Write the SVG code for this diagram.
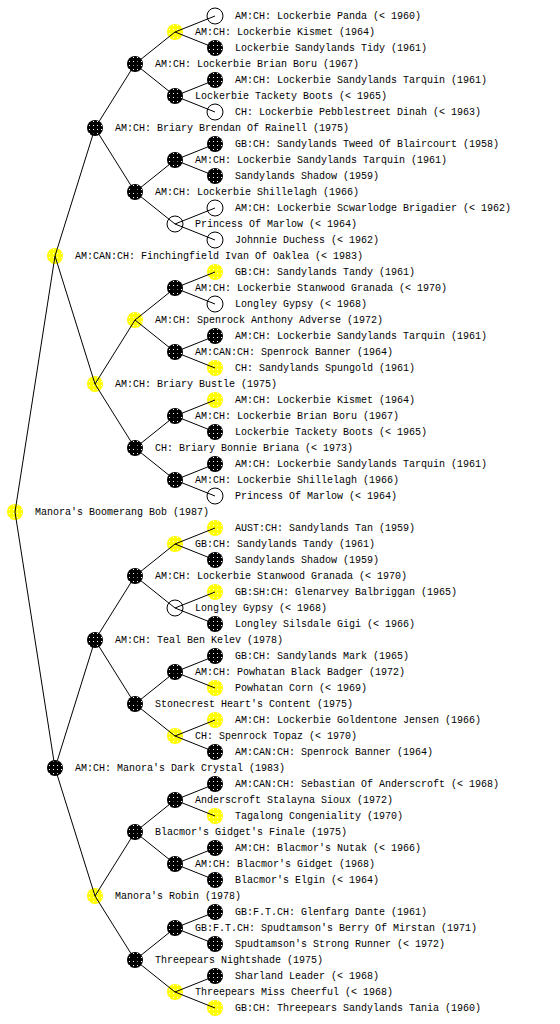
<svg xmlns="http://www.w3.org/2000/svg" width="560" height="1024" viewBox="0 0 560 1024">
<style>
text{font-family:"Liberation Mono","DejaVu Sans Mono",monospace;font-size:10px;fill:#000}
.b{fill:url(#pb)}
.y{fill:url(#py)}
.e{fill:#fff;stroke:#000;stroke-width:1}
.c{fill:none;stroke:#000;stroke-width:1}
</style>
<defs>
<pattern id="pb" width="4" height="4" patternUnits="userSpaceOnUse"><rect width="4" height="4" fill="#000"/><rect x="1" y="1" width="1" height="1" fill="#fff"/></pattern>
<pattern id="py" width="4" height="4" patternUnits="userSpaceOnUse"><rect width="4" height="4" fill="#ffff00"/><rect x="1" y="1" width="1" height="1" fill="#fff"/></pattern>
</defs>
<rect width="560" height="1024" fill="#fff"/>
<g id="nodes">
<g id="n0"><circle class="y" cx="15" cy="512" r="8"/><text x="35" y="515">Manora's Boomerang Bob (1987)</text></g>
<g id="n1"><circle class="y" cx="55" cy="256" r="8"/><text x="75" y="259">AM:CAN:CH: Finchingfield Ivan Of Oaklea (&lt; 1983)</text></g>
<g id="n2"><circle class="b" cx="55" cy="768" r="8"/><text x="75" y="771">AM:CH: Manora's Dark Crystal (1983)</text></g>
<g id="n3"><circle class="b" cx="95" cy="128" r="8"/><text x="115" y="131">AM:CH: Briary Brendan Of Rainell (1975)</text></g>
<g id="n4"><circle class="y" cx="95" cy="384" r="8"/><text x="115" y="387">AM:CH: Briary Bustle (1975)</text></g>
<g id="n5"><circle class="b" cx="95" cy="640" r="8"/><text x="115" y="643">AM:CH: Teal Ben Kelev (1978)</text></g>
<g id="n6"><circle class="y" cx="95" cy="896" r="8"/><text x="115" y="899">Manora's Robin (1978)</text></g>
<g id="n7"><circle class="b" cx="135" cy="64" r="8"/><text x="155" y="67">AM:CH: Lockerbie Brian Boru (1967)</text></g>
<g id="n8"><circle class="b" cx="135" cy="192" r="8"/><text x="155" y="195">AM:CH: Lockerbie Shillelagh (1966)</text></g>
<g id="n9"><circle class="y" cx="135" cy="320" r="8"/><text x="155" y="323">AM:CH: Spenrock Anthony Adverse (1972)</text></g>
<g id="n10"><circle class="b" cx="135" cy="448" r="8"/><text x="155" y="451">CH: Briary Bonnie Briana (&lt; 1973)</text></g>
<g id="n11"><circle class="b" cx="135" cy="576" r="8"/><text x="155" y="579">AM:CH: Lockerbie Stanwood Granada (&lt; 1970)</text></g>
<g id="n12"><circle class="b" cx="135" cy="704" r="8"/><text x="155" y="707">Stonecrest Heart's Content (1975)</text></g>
<g id="n13"><circle class="b" cx="135" cy="832" r="8"/><text x="155" y="835">Blacmor's Gidget's Finale (1975)</text></g>
<g id="n14"><circle class="b" cx="135" cy="960" r="8"/><text x="155" y="963">Threepears Nightshade (1975)</text></g>
<g id="n15"><circle class="y" cx="175" cy="32" r="8"/><text x="195" y="35">AM:CH: Lockerbie Kismet (1964)</text></g>
<g id="n16"><circle class="b" cx="175" cy="96" r="8"/><text x="195" y="99">Lockerbie Tackety Boots (&lt; 1965)</text></g>
<g id="n17"><circle class="b" cx="175" cy="160" r="8"/><text x="195" y="163">AM:CH: Lockerbie Sandylands Tarquin (1961)</text></g>
<g id="n18"><circle class="e" cx="175" cy="224" r="8"/><text x="195" y="227">Princess Of Marlow (&lt; 1964)</text></g>
<g id="n19"><circle class="b" cx="175" cy="288" r="8"/><text x="195" y="291">AM:CH: Lockerbie Stanwood Granada (&lt; 1970)</text></g>
<g id="n20"><circle class="b" cx="175" cy="352" r="8"/><text x="195" y="355">AM:CAN:CH: Spenrock Banner (1964)</text></g>
<g id="n21"><circle class="b" cx="175" cy="416" r="8"/><text x="195" y="419">AM:CH: Lockerbie Brian Boru (1967)</text></g>
<g id="n22"><circle class="b" cx="175" cy="480" r="8"/><text x="195" y="483">AM:CH: Lockerbie Shillelagh (1966)</text></g>
<g id="n23"><circle class="y" cx="175" cy="544" r="8"/><text x="195" y="547">GB:CH: Sandylands Tandy (1961)</text></g>
<g id="n24"><circle class="e" cx="175" cy="608" r="8"/><text x="195" y="611">Longley Gypsy (&lt; 1968)</text></g>
<g id="n25"><circle class="b" cx="175" cy="672" r="8"/><text x="195" y="675">AM:CH: Powhatan Black Badger (1972)</text></g>
<g id="n26"><circle class="y" cx="175" cy="736" r="8"/><text x="195" y="739">CH: Spenrock Topaz (&lt; 1970)</text></g>
<g id="n27"><circle class="b" cx="175" cy="800" r="8"/><text x="195" y="803">Anderscroft Stalayna Sioux (1972)</text></g>
<g id="n28"><circle class="b" cx="175" cy="864" r="8"/><text x="195" y="867">AM:CH: Blacmor's Gidget (1968)</text></g>
<g id="n29"><circle class="b" cx="175" cy="928" r="8"/><text x="195" y="931">GB:F.T.CH: Spudtamson's Berry Of Mirstan (1971)</text></g>
<g id="n30"><circle class="y" cx="175" cy="992" r="8"/><text x="195" y="995">Threepears Miss Cheerful (&lt; 1968)</text></g>
<g id="n31"><circle class="e" cx="215" cy="16" r="8"/><text x="235" y="19">AM:CH: Lockerbie Panda (&lt; 1960)</text></g>
<g id="n32"><circle class="b" cx="215" cy="48" r="8"/><text x="235" y="51">Lockerbie Sandylands Tidy (1961)</text></g>
<g id="n33"><circle class="b" cx="215" cy="80" r="8"/><text x="235" y="83">AM:CH: Lockerbie Sandylands Tarquin (1961)</text></g>
<g id="n34"><circle class="e" cx="215" cy="112" r="8"/><text x="235" y="115">CH: Lockerbie Pebblestreet Dinah (&lt; 1963)</text></g>
<g id="n35"><circle class="b" cx="215" cy="144" r="8"/><text x="235" y="147">GB:CH: Sandylands Tweed Of Blaircourt (1958)</text></g>
<g id="n36"><circle class="b" cx="215" cy="176" r="8"/><text x="235" y="179">Sandylands Shadow (1959)</text></g>
<g id="n37"><circle class="e" cx="215" cy="208" r="8"/><text x="235" y="211">AM:CH: Lockerbie Scwarlodge Brigadier (&lt; 1962)</text></g>
<g id="n38"><circle class="e" cx="215" cy="240" r="8"/><text x="235" y="243">Johnnie Duchess (&lt; 1962)</text></g>
<g id="n39"><circle class="y" cx="215" cy="272" r="8"/><text x="235" y="275">GB:CH: Sandylands Tandy (1961)</text></g>
<g id="n40"><circle class="e" cx="215" cy="304" r="8"/><text x="235" y="307">Longley Gypsy (&lt; 1968)</text></g>
<g id="n41"><circle class="b" cx="215" cy="336" r="8"/><text x="235" y="339">AM:CH: Lockerbie Sandylands Tarquin (1961)</text></g>
<g id="n42"><circle class="y" cx="215" cy="368" r="8"/><text x="235" y="371">CH: Sandylands Spungold (1961)</text></g>
<g id="n43"><circle class="y" cx="215" cy="400" r="8"/><text x="235" y="403">AM:CH: Lockerbie Kismet (1964)</text></g>
<g id="n44"><circle class="b" cx="215" cy="432" r="8"/><text x="235" y="435">Lockerbie Tackety Boots (&lt; 1965)</text></g>
<g id="n45"><circle class="b" cx="215" cy="464" r="8"/><text x="235" y="467">AM:CH: Lockerbie Sandylands Tarquin (1961)</text></g>
<g id="n46"><circle class="e" cx="215" cy="496" r="8"/><text x="235" y="499">Princess Of Marlow (&lt; 1964)</text></g>
<g id="n47"><circle class="y" cx="215" cy="528" r="8"/><text x="235" y="531">AUST:CH: Sandylands Tan (1959)</text></g>
<g id="n48"><circle class="b" cx="215" cy="560" r="8"/><text x="235" y="563">Sandylands Shadow (1959)</text></g>
<g id="n49"><circle class="y" cx="215" cy="592" r="8"/><text x="235" y="595">GB:SH:CH: Glenarvey Balbriggan (1965)</text></g>
<g id="n50"><circle class="b" cx="215" cy="624" r="8"/><text x="235" y="627">Longley Silsdale Gigi (&lt; 1966)</text></g>
<g id="n51"><circle class="b" cx="215" cy="656" r="8"/><text x="235" y="659">GB:CH: Sandylands Mark (1965)</text></g>
<g id="n52"><circle class="y" cx="215" cy="688" r="8"/><text x="235" y="691">Powhatan Corn (&lt; 1969)</text></g>
<g id="n53"><circle class="y" cx="215" cy="720" r="8"/><text x="235" y="723">AM:CH: Lockerbie Goldentone Jensen (1966)</text></g>
<g id="n54"><circle class="b" cx="215" cy="752" r="8"/><text x="235" y="755">AM:CAN:CH: Spenrock Banner (1964)</text></g>
<g id="n55"><circle class="b" cx="215" cy="784" r="8"/><text x="235" y="787">AM:CAN:CH: Sebastian Of Anderscroft (&lt; 1968)</text></g>
<g id="n56"><circle class="y" cx="215" cy="816" r="8"/><text x="235" y="819">Tagalong Congeniality (1970)</text></g>
<g id="n57"><circle class="b" cx="215" cy="848" r="8"/><text x="235" y="851">AM:CH: Blacmor's Nutak (&lt; 1966)</text></g>
<g id="n58"><circle class="b" cx="215" cy="880" r="8"/><text x="235" y="883">Blacmor's Elgin (&lt; 1964)</text></g>
<g id="n59"><circle class="b" cx="215" cy="912" r="8"/><text x="235" y="915">GB:F.T.CH: Glenfarg Dante (1961)</text></g>
<g id="n60"><circle class="b" cx="215" cy="944" r="8"/><text x="235" y="947">Spudtamson's Strong Runner (&lt; 1972)</text></g>
<g id="n61"><circle class="b" cx="215" cy="976" r="8"/><text x="235" y="979">Sharland Leader (&lt; 1968)</text></g>
<g id="n62"><circle class="y" cx="215" cy="1008" r="8"/><text x="235" y="1011">GB:CH: Threepears Sandylands Tania (1960)</text></g>
</g>
<g id="connectors" class="c">
<path d="M15 512L55 256M15 512L55 768
M55 256L95 128M55 256L95 384M55 768L95 640M55 768L95 896
M95 128L135 64M95 128L135 192M95 384L135 320M95 384L135 448M95 640L135 576M95 640L135 704M95 896L135 832M95 896L135 960
M135 64L175 32M135 64L175 96M135 192L175 160M135 192L175 224M135 320L175 288M135 320L175 352M135 448L175 416M135 448L175 480
M135 576L175 544M135 576L175 608M135 704L175 672M135 704L175 736M135 832L175 800M135 832L175 864M135 960L175 928M135 960L175 992
M175 32L215 16M175 32L215 48M175 96L215 80M175 96L215 112M175 160L215 144M175 160L215 176M175 224L215 208M175 224L215 240
M175 288L215 272M175 288L215 304M175 352L215 336M175 352L215 368M175 416L215 400M175 416L215 432M175 480L215 464M175 480L215 496
M175 544L215 528M175 544L215 560M175 608L215 592M175 608L215 624M175 672L215 656M175 672L215 688M175 736L215 720M175 736L215 752
M175 800L215 784M175 800L215 816M175 864L215 848M175 864L215 880M175 928L215 912M175 928L215 944M175 992L215 976M175 992L215 1008"/>
</g>
</svg>
